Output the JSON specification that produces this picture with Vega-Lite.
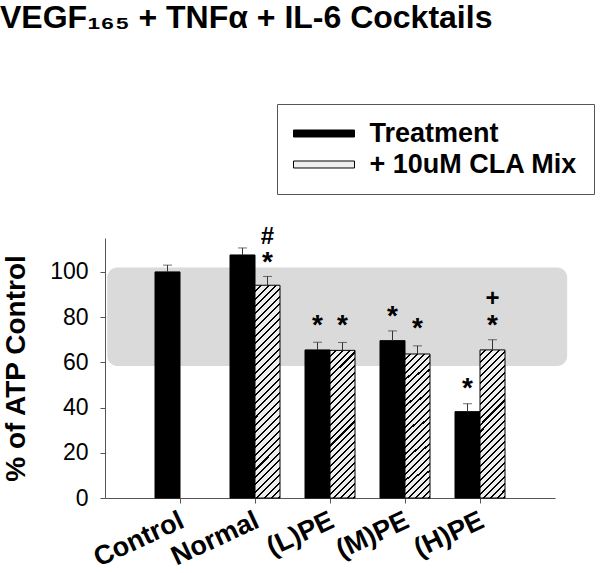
{
  "$schema": "https://vega.github.io/schema/vega-lite/v6.json",
  "width": 450,
  "height": 260,
  "autosize": "none",
  "padding": {"left": 105, "top": 238, "right": 45, "bottom": 75},
  "config": {
    "font": "Liberation Sans",
    "view": {"stroke": null},
    "axis": {"domainColor": "#555", "tickColor": "#555", "labelColor": "#000", "titleColor": "#000", "grid": false, "tickSize": 5}
  },
  "title": {
    "text": "VEGF₁₆₅ + TNFα + IL-6 Cocktails",
    "anchor": "start",
    "frame": "group",
    "dx": -105,
    "dy": -65,
    "fontSize": 32,
    "fontWeight": "bold",
    "color": "#000",
    "font": "Liberation Sans"
  },
  "datasets": {
    "bars": [
      {"cat": "Control", "series": "Treatment", "value": 100, "hi": 103},
      {"cat": "Normal", "series": "Treatment", "value": 107.5, "hi": 110.6},
      {"cat": "Normal", "series": "+ 10uM CLA Mix", "value": 94.1, "hi": 98},
      {"cat": "(L)PE", "series": "Treatment", "value": 65.5, "hi": 68.9},
      {"cat": "(L)PE", "series": "+ 10uM CLA Mix", "value": 65.3, "hi": 68.8},
      {"cat": "(M)PE", "series": "Treatment", "value": 69.6, "hi": 73.9},
      {"cat": "(M)PE", "series": "+ 10uM CLA Mix", "value": 63.7, "hi": 67.3},
      {"cat": "(H)PE", "series": "Treatment", "value": 38.2, "hi": 41.7},
      {"cat": "(H)PE", "series": "+ 10uM CLA Mix", "value": 65.5, "hi": 70}
    ],
    "notes": [
      {"cat": "Normal", "series": "+ 10uM CLA Mix", "pos": 107.1, "mark": "*"},
      {"cat": "Normal", "series": "+ 10uM CLA Mix", "pos": 115.9, "mark": "#"},
      {"cat": "(L)PE", "series": "Treatment", "pos": 79.2, "mark": "*"},
      {"cat": "(L)PE", "series": "+ 10uM CLA Mix", "pos": 79.2, "mark": "*"},
      {"cat": "(M)PE", "series": "Treatment", "pos": 83.2, "mark": "*"},
      {"cat": "(M)PE", "series": "+ 10uM CLA Mix", "pos": 78, "mark": "*"},
      {"cat": "(H)PE", "series": "Treatment", "pos": 51.3, "mark": "*"},
      {"cat": "(H)PE", "series": "+ 10uM CLA Mix", "pos": 79.2, "mark": "*"},
      {"cat": "(H)PE", "series": "+ 10uM CLA Mix", "pos": 88.5, "mark": "+"}
    ],
    "band": [
      {"x0": 0.005, "x1": 1.027, "lo": 58.4, "hi": 101.9}
    ]
  },
  "resolve": {"scale": {"x": "independent"}},
  "layer": [
    {
      "data": {"name": "band"},
      "mark": {"type": "rect", "fill": "#dadada", "cornerRadius": 10},
      "encoding": {
        "x": {"field": "x0", "type": "quantitative", "scale": {"domain": [0, 1], "nice": false, "zero": false}, "axis": null},
        "x2": {"field": "x1"},
        "y": {"field": "lo", "type": "quantitative", "scale": {"domain": [0, 115], "nice": false},
          "axis": {"values": [0, 20, 40, 60, 80, 100], "title": "% of ATP Control", "titleFontSize": 28, "titleFontWeight": "bold", "titlePadding": 19, "labelFontSize": 23, "labelPadding": 12, "labelFont": "Liberation Sans", "titleFont": "Liberation Sans"}},
        "y2": {"field": "hi"}
      }
    },
    {
      "layer": [
        {
          "data": {"name": "bars"},
          "mark": {"type": "bar", "stroke": "#000", "strokeWidth": 1},
          "encoding": {
            "x": {"field": "cat", "type": "nominal", "sort": null,
              "scale": {"domain": ["Control", "Normal", "(L)PE", "(M)PE", "(H)PE"], "paddingInner": 0, "paddingOuter": 0.5},
              "axis": {"title": null, "labelAngle": -25, "labelAlign": "right", "labelBaseline": "top", "labelFontSize": 27, "labelFontWeight": "bold", "labelPadding": 4, "labelOffset": -3, "labelLimit": 300, "labelFont": "Liberation Sans"}},
            "xOffset": {"field": "series", "type": "nominal", "scale": {"domain": ["Treatment", "+ 10uM CLA Mix"], "paddingInner": 0, "paddingOuter": 0.5}},
            "y": {"field": "value", "type": "quantitative", "scale": {"domain": [0, 115], "nice": false},
              "axis": {"values": [0, 20, 40, 60, 80, 100], "title": "% of ATP Control", "titleFontSize": 28, "titleFontWeight": "bold", "titlePadding": 19, "labelFontSize": 23, "labelPadding": 12, "labelFont": "Liberation Sans", "titleFont": "Liberation Sans"}},
            "fill": {
              "condition": [
                {"test": "datum.series === '+ 10uM CLA Mix' && datum.cat === 'Normal'",
                  "value": {"gradient": "linear", "x1": 0, "y1": 0, "x2": 0.1297, "y2": 1.1024, "stops": [
                    {"offset": 0, "color": "#eee"}, {"offset": 0.0225, "color": "#eee"}, {"offset": 0.0225, "color": "#000"}, {"offset": 0.03125, "color": "#000"},
                    {"offset": 0.03125, "color": "#eee"}, {"offset": 0.05375, "color": "#eee"}, {"offset": 0.05375, "color": "#000"}, {"offset": 0.0625, "color": "#000"},
                    {"offset": 0.0625, "color": "#eee"}, {"offset": 0.085, "color": "#eee"}, {"offset": 0.085, "color": "#000"}, {"offset": 0.09375, "color": "#000"},
                    {"offset": 0.09375, "color": "#eee"}, {"offset": 0.11625, "color": "#eee"}, {"offset": 0.11625, "color": "#000"}, {"offset": 0.125, "color": "#000"},
                    {"offset": 0.125, "color": "#eee"}, {"offset": 0.1475, "color": "#eee"}, {"offset": 0.1475, "color": "#000"}, {"offset": 0.15625, "color": "#000"},
                    {"offset": 0.15625, "color": "#eee"}, {"offset": 0.17875, "color": "#eee"}, {"offset": 0.17875, "color": "#000"}, {"offset": 0.1875, "color": "#000"},
                    {"offset": 0.1875, "color": "#eee"}, {"offset": 0.21, "color": "#eee"}, {"offset": 0.21, "color": "#000"}, {"offset": 0.21875, "color": "#000"},
                    {"offset": 0.21875, "color": "#eee"}, {"offset": 0.24125, "color": "#eee"}, {"offset": 0.24125, "color": "#000"}, {"offset": 0.25, "color": "#000"},
                    {"offset": 0.25, "color": "#eee"}, {"offset": 0.2725, "color": "#eee"}, {"offset": 0.2725, "color": "#000"}, {"offset": 0.28125, "color": "#000"},
                    {"offset": 0.28125, "color": "#eee"}, {"offset": 0.30375, "color": "#eee"}, {"offset": 0.30375, "color": "#000"}, {"offset": 0.3125, "color": "#000"},
                    {"offset": 0.3125, "color": "#eee"}, {"offset": 0.335, "color": "#eee"}, {"offset": 0.335, "color": "#000"}, {"offset": 0.34375, "color": "#000"},
                    {"offset": 0.34375, "color": "#eee"}, {"offset": 0.36625, "color": "#eee"}, {"offset": 0.36625, "color": "#000"}, {"offset": 0.375, "color": "#000"},
                    {"offset": 0.375, "color": "#eee"}, {"offset": 0.3975, "color": "#eee"}, {"offset": 0.3975, "color": "#000"}, {"offset": 0.40625, "color": "#000"},
                    {"offset": 0.40625, "color": "#eee"}, {"offset": 0.42875, "color": "#eee"}, {"offset": 0.42875, "color": "#000"}, {"offset": 0.4375, "color": "#000"},
                    {"offset": 0.4375, "color": "#eee"}, {"offset": 0.46, "color": "#eee"}, {"offset": 0.46, "color": "#000"}, {"offset": 0.46875, "color": "#000"},
                    {"offset": 0.46875, "color": "#eee"}, {"offset": 0.49125, "color": "#eee"}, {"offset": 0.49125, "color": "#000"}, {"offset": 0.5, "color": "#000"},
                    {"offset": 0.5, "color": "#eee"}, {"offset": 0.5225, "color": "#eee"}, {"offset": 0.5225, "color": "#000"}, {"offset": 0.53125, "color": "#000"},
                    {"offset": 0.53125, "color": "#eee"}, {"offset": 0.55375, "color": "#eee"}, {"offset": 0.55375, "color": "#000"}, {"offset": 0.5625, "color": "#000"},
                    {"offset": 0.5625, "color": "#eee"}, {"offset": 0.585, "color": "#eee"}, {"offset": 0.585, "color": "#000"}, {"offset": 0.59375, "color": "#000"},
                    {"offset": 0.59375, "color": "#eee"}, {"offset": 0.61625, "color": "#eee"}, {"offset": 0.61625, "color": "#000"}, {"offset": 0.625, "color": "#000"},
                    {"offset": 0.625, "color": "#eee"}, {"offset": 0.6475, "color": "#eee"}, {"offset": 0.6475, "color": "#000"}, {"offset": 0.65625, "color": "#000"},
                    {"offset": 0.65625, "color": "#eee"}, {"offset": 0.67875, "color": "#eee"}, {"offset": 0.67875, "color": "#000"}, {"offset": 0.6875, "color": "#000"},
                    {"offset": 0.6875, "color": "#eee"}, {"offset": 0.71, "color": "#eee"}, {"offset": 0.71, "color": "#000"}, {"offset": 0.71875, "color": "#000"},
                    {"offset": 0.71875, "color": "#eee"}, {"offset": 0.74125, "color": "#eee"}, {"offset": 0.74125, "color": "#000"}, {"offset": 0.75, "color": "#000"},
                    {"offset": 0.75, "color": "#eee"}, {"offset": 0.7725, "color": "#eee"}, {"offset": 0.7725, "color": "#000"}, {"offset": 0.78125, "color": "#000"},
                    {"offset": 0.78125, "color": "#eee"}, {"offset": 0.80375, "color": "#eee"}, {"offset": 0.80375, "color": "#000"}, {"offset": 0.8125, "color": "#000"},
                    {"offset": 0.8125, "color": "#eee"}, {"offset": 0.835, "color": "#eee"}, {"offset": 0.835, "color": "#000"}, {"offset": 0.84375, "color": "#000"},
                    {"offset": 0.84375, "color": "#eee"}, {"offset": 0.86625, "color": "#eee"}, {"offset": 0.86625, "color": "#000"}, {"offset": 0.875, "color": "#000"},
                    {"offset": 0.875, "color": "#eee"}, {"offset": 0.8975, "color": "#eee"}, {"offset": 0.8975, "color": "#000"}, {"offset": 0.90625, "color": "#000"},
                    {"offset": 0.90625, "color": "#eee"}, {"offset": 0.92875, "color": "#eee"}, {"offset": 0.92875, "color": "#000"}, {"offset": 0.9375, "color": "#000"},
                    {"offset": 0.9375, "color": "#eee"}, {"offset": 0.96, "color": "#eee"}, {"offset": 0.96, "color": "#000"}, {"offset": 0.96875, "color": "#000"},
                    {"offset": 0.96875, "color": "#eee"}, {"offset": 0.99125, "color": "#eee"}, {"offset": 0.99125, "color": "#000"}, {"offset": 1, "color": "#000"}
                  ]}},
                {"test": "datum.series === '+ 10uM CLA Mix'",
                  "value": {"gradient": "linear", "x1": 0, "y1": 0, "x2": 0.192, "y2": 1.1365, "stops": [
                    {"offset": 0, "color": "#eee"}, {"offset": 0.028, "color": "#eee"}, {"offset": 0.028, "color": "#000"}, {"offset": 0.04, "color": "#000"},
                    {"offset": 0.04, "color": "#eee"}, {"offset": 0.068, "color": "#eee"}, {"offset": 0.068, "color": "#000"}, {"offset": 0.08, "color": "#000"},
                    {"offset": 0.08, "color": "#eee"}, {"offset": 0.108, "color": "#eee"}, {"offset": 0.108, "color": "#000"}, {"offset": 0.12, "color": "#000"},
                    {"offset": 0.12, "color": "#eee"}, {"offset": 0.148, "color": "#eee"}, {"offset": 0.148, "color": "#000"}, {"offset": 0.16, "color": "#000"},
                    {"offset": 0.16, "color": "#eee"}, {"offset": 0.188, "color": "#eee"}, {"offset": 0.188, "color": "#000"}, {"offset": 0.2, "color": "#000"},
                    {"offset": 0.2, "color": "#eee"}, {"offset": 0.228, "color": "#eee"}, {"offset": 0.228, "color": "#000"}, {"offset": 0.24, "color": "#000"},
                    {"offset": 0.24, "color": "#eee"}, {"offset": 0.268, "color": "#eee"}, {"offset": 0.268, "color": "#000"}, {"offset": 0.28, "color": "#000"},
                    {"offset": 0.28, "color": "#eee"}, {"offset": 0.308, "color": "#eee"}, {"offset": 0.308, "color": "#000"}, {"offset": 0.32, "color": "#000"},
                    {"offset": 0.32, "color": "#eee"}, {"offset": 0.348, "color": "#eee"}, {"offset": 0.348, "color": "#000"}, {"offset": 0.36, "color": "#000"},
                    {"offset": 0.36, "color": "#eee"}, {"offset": 0.388, "color": "#eee"}, {"offset": 0.388, "color": "#000"}, {"offset": 0.4, "color": "#000"},
                    {"offset": 0.4, "color": "#eee"}, {"offset": 0.428, "color": "#eee"}, {"offset": 0.428, "color": "#000"}, {"offset": 0.44, "color": "#000"},
                    {"offset": 0.44, "color": "#eee"}, {"offset": 0.468, "color": "#eee"}, {"offset": 0.468, "color": "#000"}, {"offset": 0.48, "color": "#000"},
                    {"offset": 0.48, "color": "#eee"}, {"offset": 0.508, "color": "#eee"}, {"offset": 0.508, "color": "#000"}, {"offset": 0.52, "color": "#000"},
                    {"offset": 0.52, "color": "#eee"}, {"offset": 0.548, "color": "#eee"}, {"offset": 0.548, "color": "#000"}, {"offset": 0.56, "color": "#000"},
                    {"offset": 0.56, "color": "#eee"}, {"offset": 0.588, "color": "#eee"}, {"offset": 0.588, "color": "#000"}, {"offset": 0.6, "color": "#000"},
                    {"offset": 0.6, "color": "#eee"}, {"offset": 0.628, "color": "#eee"}, {"offset": 0.628, "color": "#000"}, {"offset": 0.64, "color": "#000"},
                    {"offset": 0.64, "color": "#eee"}, {"offset": 0.668, "color": "#eee"}, {"offset": 0.668, "color": "#000"}, {"offset": 0.68, "color": "#000"},
                    {"offset": 0.68, "color": "#eee"}, {"offset": 0.708, "color": "#eee"}, {"offset": 0.708, "color": "#000"}, {"offset": 0.72, "color": "#000"},
                    {"offset": 0.72, "color": "#eee"}, {"offset": 0.748, "color": "#eee"}, {"offset": 0.748, "color": "#000"}, {"offset": 0.76, "color": "#000"},
                    {"offset": 0.76, "color": "#eee"}, {"offset": 0.788, "color": "#eee"}, {"offset": 0.788, "color": "#000"}, {"offset": 0.8, "color": "#000"},
                    {"offset": 0.8, "color": "#eee"}, {"offset": 0.828, "color": "#eee"}, {"offset": 0.828, "color": "#000"}, {"offset": 0.84, "color": "#000"},
                    {"offset": 0.84, "color": "#eee"}, {"offset": 0.868, "color": "#eee"}, {"offset": 0.868, "color": "#000"}, {"offset": 0.88, "color": "#000"},
                    {"offset": 0.88, "color": "#eee"}, {"offset": 0.908, "color": "#eee"}, {"offset": 0.908, "color": "#000"}, {"offset": 0.92, "color": "#000"},
                    {"offset": 0.92, "color": "#eee"}, {"offset": 0.948, "color": "#eee"}, {"offset": 0.948, "color": "#000"}, {"offset": 0.96, "color": "#000"},
                    {"offset": 0.96, "color": "#eee"}, {"offset": 0.988, "color": "#eee"}, {"offset": 0.988, "color": "#000"}, {"offset": 1, "color": "#000"}
                  ]}}
              ],
              "field": "series",
              "type": "nominal",
              "scale": {"domain": ["Treatment", "+ 10uM CLA Mix"], "range": ["#000", "#eee"]},
              "legend": {
                "title": null,
                "orient": "none",
                "legendX": 172,
                "legendY": -134,
                "direction": "vertical",
                "strokeColor": "#555",
                "fillColor": "#fff",
                "padding": 16,
                "rowPadding": 3,
                "symbolType": "M-2.346,-0.269L2.346,-0.269L2.346,0.269L-2.346,0.269Z",
                "symbolSize": 676,
                "symbolOffset": 17.5,
                "symbolStrokeColor": "#000",
                "symbolStrokeWidth": 1,
                "symbolOpacity": 1,
                "labelFontSize": 27,
                "labelFontWeight": "bold",
                "labelFont": "Liberation Sans",
                "labelColor": "#000",
                "labelOffset": 32,
                "labelLimit": 400,
                "encode": {
                  "symbols": {
                    "update": {
                      "fill": [
                        {"test": "datum.value === '+ 10uM CLA Mix'",
                          "value": {"gradient": "linear", "x1": 0, "y1": 0, "x2": 1.1003, "y2": 0.1263, "stops": [
                            {"offset": 0, "color": "#eee"}, {"offset": 0.07, "color": "#eee"}, {"offset": 0.07, "color": "#000"}, {"offset": 0.1, "color": "#000"},
                            {"offset": 0.1, "color": "#eee"}, {"offset": 0.17, "color": "#eee"}, {"offset": 0.17, "color": "#000"}, {"offset": 0.2, "color": "#000"},
                            {"offset": 0.2, "color": "#eee"}, {"offset": 0.27, "color": "#eee"}, {"offset": 0.27, "color": "#000"}, {"offset": 0.3, "color": "#000"},
                            {"offset": 0.3, "color": "#eee"}, {"offset": 0.37, "color": "#eee"}, {"offset": 0.37, "color": "#000"}, {"offset": 0.4, "color": "#000"},
                            {"offset": 0.4, "color": "#eee"}, {"offset": 0.47, "color": "#eee"}, {"offset": 0.47, "color": "#000"}, {"offset": 0.5, "color": "#000"},
                            {"offset": 0.5, "color": "#eee"}, {"offset": 0.57, "color": "#eee"}, {"offset": 0.57, "color": "#000"}, {"offset": 0.6, "color": "#000"},
                            {"offset": 0.6, "color": "#eee"}, {"offset": 0.67, "color": "#eee"}, {"offset": 0.67, "color": "#000"}, {"offset": 0.7, "color": "#000"},
                            {"offset": 0.7, "color": "#eee"}, {"offset": 0.77, "color": "#eee"}, {"offset": 0.77, "color": "#000"}, {"offset": 0.8, "color": "#000"},
                            {"offset": 0.8, "color": "#eee"}, {"offset": 0.87, "color": "#eee"}, {"offset": 0.87, "color": "#000"}, {"offset": 0.9, "color": "#000"},
                            {"offset": 0.9, "color": "#eee"}, {"offset": 0.97, "color": "#eee"}, {"offset": 0.97, "color": "#000"}, {"offset": 1, "color": "#000"}
                          ]}},
                        {"value": "#000"}
                      ],
                      "stroke": {"value": "#000"},
                      "strokeWidth": {"value": 1}
                    }
                  }
                }
              }
            }
          }
        },
        {
          "data": {"name": "bars"},
          "mark": {"type": "rule", "color": "#333", "strokeWidth": 1},
          "encoding": {
            "x": {"field": "cat", "type": "nominal", "sort": null},
            "xOffset": {"field": "series", "type": "nominal"},
            "y": {"field": "value", "type": "quantitative"},
            "y2": {"field": "hi"}
          }
        },
        {
          "data": {"name": "bars"},
          "mark": {"type": "tick", "orient": "horizontal", "color": "#333", "size": 9, "thickness": 1},
          "encoding": {
            "x": {"field": "cat", "type": "nominal", "sort": null},
            "xOffset": {"field": "series", "type": "nominal"},
            "y": {"field": "hi", "type": "quantitative"}
          }
        },
        {
          "data": {"name": "notes"},
          "transform": [{"filter": "datum.mark === '*'"}],
          "mark": {"type": "text", "fontSize": 28, "fontWeight": "bold", "baseline": "middle", "align": "center", "dy": 7, "color": "#000", "font": "Liberation Sans"},
          "encoding": {
            "x": {"field": "cat", "type": "nominal", "sort": null},
            "xOffset": {"field": "series", "type": "nominal"},
            "y": {"field": "pos", "type": "quantitative"},
            "text": {"field": "mark"}
          }
        },
        {
          "data": {"name": "notes"},
          "transform": [{"filter": "datum.mark !== '*'"}],
          "mark": {"type": "text", "fontSize": 24, "fontWeight": "bold", "baseline": "middle", "align": "center", "dy": 1, "color": "#000", "font": "Liberation Sans"},
          "encoding": {
            "x": {"field": "cat", "type": "nominal", "sort": null},
            "xOffset": {"field": "series", "type": "nominal"},
            "y": {"field": "pos", "type": "quantitative"},
            "text": {"field": "mark"}
          }
        }
      ]
    }
  ]
}
